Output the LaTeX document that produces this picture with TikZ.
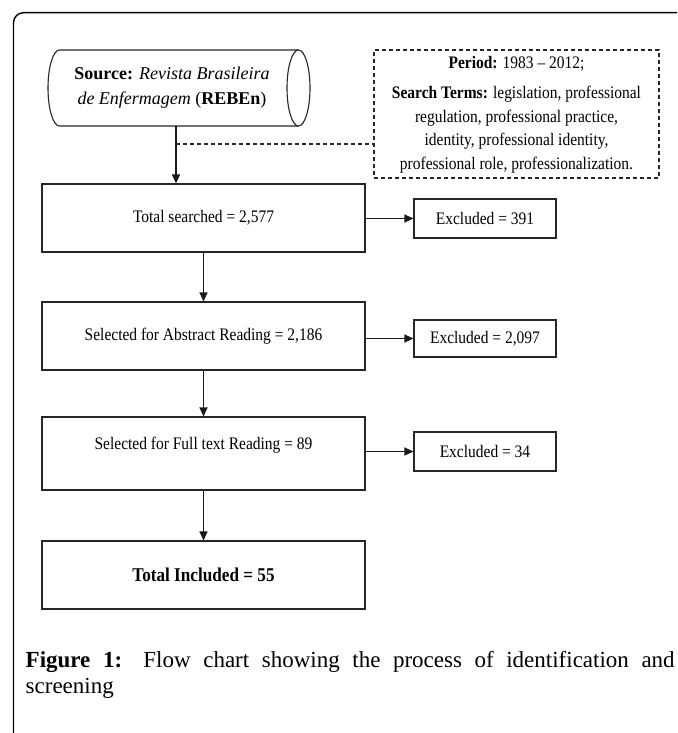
\documentclass[tikz,border=0pt]{standalone}
\usepackage{fontspec}
\setmainfont{Liberation Serif}
\newfontfamily\dfont[FakeStretch=0.88]{Liberation Serif}
\usetikzlibrary{arrows.meta}
\begin{document}
\begin{tikzpicture}[x=1pt,y=-1pt,
  box/.style={draw=black!85, line width=1.1pt, rectangle, inner sep=0pt, font=\dfont\fontsize{17.6}{20}\selectfont},
  flow/.style={draw=black!90, line width=1.1pt, -{Triangle[length=9pt,width=8pt]}},
  dashline/.style={draw=black!85, line width=1.1pt, dash pattern=on 4pt off 3pt},
  txt/.style={inner sep=0pt, font=\dfont\fontsize{17.6}{20}\selectfont},
]
\useasboundingbox (0,0) rectangle (677,733);
\fill[white] (0,0) rectangle (677,733);
% frame
\draw[line width=1.4pt, rounded corners=10pt] (13.5,733) -- (13.5,12.7) -- (677,12.7);

% source cylinder
\draw[line width=1.1pt, draw=black!85] (298.5,50) -- (59.5,50)
   arc[start angle=90, end angle=270, x radius=11.5pt, y radius=38pt] -- (298.5,126);
\draw[line width=1.1pt, draw=black!85] (298.5,88) ellipse[x radius=11.5pt, y radius=38pt];
\node[align=center, inner sep=0pt, font=\fontsize{18}{25}\selectfont] (src) at (172,87.5)
  {\textbf{Source:} \textit{Revista Brasileira}\\ \textit{de Enfermagem} (\textbf{REBEn})};
\coordinate (cb) at (176,126);
\coordinate (dj) at (176,144);

% search terms box
\node[dashline, rectangle, minimum width=285pt, minimum height=128pt] (terms) at (516.5,114) {};
\node[align=center, inner sep=0pt, font=\dfont\fontsize{17.6}{23.5}\selectfont] (termtxt) at (516.5,114.5)
  {\textbf{Period:} 1983 – 2012;\\[7pt]
   \textbf{Search Terms:} legislation, professional\\
   regulation, professional practice,\\
   identity, professional identity,\\
   professional role, professionalization.};

% main boxes
\node[box, minimum width=323pt, minimum height=68pt] (b1) at (203.5,218) {Total searched = 2,577};
\node[box, minimum width=323pt, minimum height=68pt] (b2) at (203.5,336) {Selected for Abstract Reading = 2,186};
\node[box, minimum width=323pt, minimum height=73pt] (b3) at (203.5,453.5) {};
\node[txt] (b3t) at ([yshift=8.5pt]b3.center) {Selected for Full text Reading = 89};
\node[box, minimum width=323pt, minimum height=68pt, font=\dfont\fontsize{19.5}{22}\selectfont] (b4) at (203.5,575) {\textbf{Total Included = 55}};

% excluded boxes
\node[box, minimum width=142pt, minimum height=39pt] (e1) at (485,218.5) {Excluded = 391};
\node[box, minimum width=142pt, minimum height=37pt] (e2) at (485,338.5) {Excluded = 2,097};
\node[box, minimum width=142pt, minimum height=39pt] (e3) at (485,451.5) {Excluded = 34};

% connectors
\draw[flow] (cb) -- (cb |- b1.north);
\draw[dashline] (dj) -- (dj -| terms.west);
\draw[flow] (b1.south) -- (b2.north);
\draw[flow] (b2.south) -- (b3.north);
\draw[flow] (b3.south) -- (b4.north);
\draw[flow] (e1.west -| b1.east) -- (e1.west);
\draw[flow] (e2.west -| b2.east) -- (e2.west);
\draw[flow] (e3.west -| b3.east) -- (e3.west);

% caption
\node[anchor=base west, inner sep=0pt, font=\fontsize{23}{26}\selectfont] (cap1) at (25.5,667)
  {\makebox[649pt][s]{\textbf{Figure 1:} Flow chart showing the process of identification and}};
\node[anchor=base west, inner sep=0pt, font=\fontsize{23}{26}\selectfont] (cap2) at (25.5,693) {screening};
\end{tikzpicture}
\end{document}
